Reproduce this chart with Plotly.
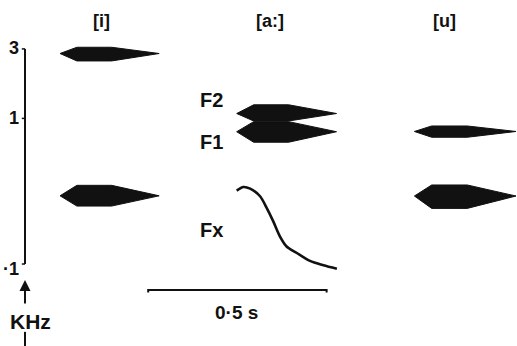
import math

import plotly.graph_objects as go

# vowels: onset / offset times (s)
vowels = ["[i]", "[a:]", "[u]"]
vowel_onset = [0.099, 0.598, 1.100]
vowel_offset = [0.379, 0.880, 1.387]

# formant bars (kHz): which vowel, centre, upper edge, lower edge
formant_vowel = [0, 0, 1, 1, 2, 2]
formant_centre = [2.79, 0.294, 1.08, 0.81, 0.813, 0.293]
formant_top = [3.08, 0.347, 1.24, 0.95, 0.887, 0.349]
formant_bottom = [2.48, 0.250, 0.96, 0.686, 0.742, 0.241]

# Fx contour during [a:]
fx_time = [0.598, 0.617, 0.636, 0.664, 0.683, 0.701, 0.720, 0.739, 0.768, 0.805, 0.843, 0.881]
fx_khz = [0.319, 0.338, 0.329, 0.292, 0.242, 0.197, 0.155, 0.132, 0.119, 0.105, 0.098, 0.0928]

freq_ticks = [3, 1, 0.1]
freq_tick_text = ["3", "1", "\u00b71"]
scale_bar = [0.348, 0.852]  # 0.5 s
scale_label = "0\u00b75 s"

FONT = "Liberation Sans"
INK = "#111111"


def ly(f):
    # annotations on a log axis take log10 positions
    return math.log10(f)


fig = go.Figure()

for v, fc, ft, fb in zip(formant_vowel, formant_centre, formant_top, formant_bottom):
    t0, t1 = vowel_onset[v], vowel_offset[v]
    span = t1 - t0
    fig.add_trace(go.Scatter(
        x=[t0, t0 + 0.17 * span, t0 + 0.52 * span, t1, t0 + 0.52 * span, t0 + 0.17 * span, t0],
        y=[fc, ft, ft, fc, fb, fb, fc],
        mode="lines", fill="toself", fillcolor=INK,
        line={"color": INK, "width": 1}, hoverinfo="skip",
    ))

fig.add_trace(go.Scatter(
    x=fx_time, y=fx_khz, mode="lines",
    line={"color": INK, "width": 2.6, "shape": "spline", "smoothing": 0.8},
))

# frequency axis
fig.add_trace(go.Scatter(
    x=[0, 0], y=[min(freq_ticks), max(freq_ticks)], mode="lines",
    line={"color": INK, "width": 2},
))
for f in freq_ticks:
    fig.add_trace(go.Scatter(x=[-0.009, 0], y=[f, f], mode="lines", line={"color": INK, "width": 1.5}))

# time scale bar
bar_y = 0.0663
fig.add_trace(go.Scatter(
    x=[scale_bar[0], scale_bar[0], scale_bar[1], scale_bar[1]],
    y=[bar_y * 0.96, bar_y, bar_y, bar_y * 0.96],
    mode="lines", line={"color": INK, "width": 2},
))

# KHz stem below label
fig.add_trace(go.Scatter(x=[0, 0], y=[0.0342, 0.0273], mode="lines", line={"color": INK, "width": 2}))

ann = []
tick_label_y = [3.05, 1, 0.092]
for y, txt in zip(tick_label_y, freq_tick_text):
    ann.append(dict(x=-0.011, y=ly(y), text=txt, xanchor="right", yanchor="middle", font={"size": 18}))

label_frac = [0.42, 0.33, 0.30]
for name, t0, t1, fr in zip(vowels, vowel_onset, vowel_offset, label_frac):
    ann.append(dict(x=t0 + fr * (t1 - t0), y=ly(4.67), text=name, font={"size": 18}))

ann += [
    dict(x=0.528, y=ly(1.337), text="F2", font={"size": 20}),
    dict(x=0.528, y=ly(0.685), text="F1", font={"size": 20}),
    dict(x=0.528, y=ly(0.171), text="Fx", font={"size": 20}),
    dict(x=sum(scale_bar) / 2 - 0.002, y=ly(0.0461), text=scale_label, font={"size": 19}),
    dict(x=0.015, y=ly(0.040), text="KHz", font={"size": 21}),
    dict(x=0, y=ly(0.0776), ax=0, ay=ly(0.0523), axref="x", ayref="y", text="", showarrow=True,
         arrowhead=2, arrowsize=1.1, arrowwidth=2, arrowcolor=INK),
]
for a in ann:
    a.setdefault("showarrow", False)
    a["font"] = {"family": FONT, "color": INK, "weight": "bold", **a.get("font", {})}

fig.update_layout(
    width=517, height=346,
    margin={"l": 0, "r": 0, "t": 0, "b": 0},
    paper_bgcolor="white", plot_bgcolor="white",
    showlegend=False,
    xaxis={"range": [-0.0706, 1.3898], "visible": False},
    yaxis={"type": "log", "range": [-1.563, 0.813], "visible": False},
    annotations=ann,
)

fig.write_html(
    "out.html",
    config={"displayModeBar": False},
    post_script="document.body.style.margin='0';document.body.style.overflow='hidden';",
)
